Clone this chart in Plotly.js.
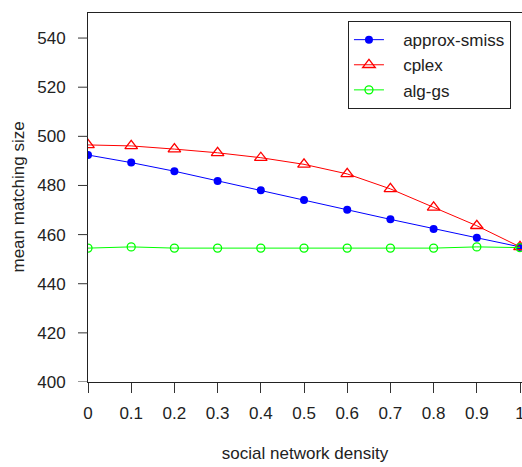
<!DOCTYPE html>
<html>
<head>
<meta charset="utf-8">
<script src="https://cdn.plot.ly/plotly-3.0.1.min.js"></script>
<style>html,body{margin:0;padding:0;background:#fff;}#chart{width:522px;height:467px;}</style>
</head>
<body>
<div id="chart"></div>
<script>
const density = [0, 0.1, 0.2, 0.3, 0.4, 0.5, 0.6, 0.7, 0.8, 0.9, 1.0];
const approxSmiss = [492.4, 489.3, 485.8, 481.8, 478.1, 474.1, 470.1, 466.2, 462.3, 458.7, 455.0];
const cplex = [496.5, 496.1, 494.8, 493.3, 491.3, 488.6, 484.7, 478.6, 471.1, 463.6, 455.0];
const algGs = [454.5, 455.0, 454.5, 454.5, 454.5, 454.5, 454.5, 454.5, 454.5, 455.0, 454.7];
const xTicks = [0, 0.1, 0.2, 0.3, 0.4, 0.5, 0.6, 0.7, 0.8, 0.9, 1];
const xTickText = ['0', '0.1', '0.2', '0.3', '0.4', '0.5', '0.6', '0.7', '0.8', '0.9', '1'];
const yTicks = [400, 420, 440, 460, 480, 500, 520, 540];
const seriesNames = ['approx-smiss', 'cplex', 'alg-gs'];
const xTitle = 'social network density';
const yTitle = 'mean matching size';

const font = 'Liberation Sans, Arial, sans-serif';
const pad = '\u00a0\u00a0\u00a0';

const traces = [
  {x: density, y: approxSmiss, name: pad + seriesNames[0], mode: 'lines+markers',
   line: {color: '#0000ff', width: 1}, marker: {symbol: 'circle', size: 8, color: '#0000ff'}},
  {x: density, y: cplex, name: pad + seriesNames[1], mode: 'lines+markers',
   line: {color: '#ff0000', width: 1}, marker: {symbol: 'triangle-up-open', size: 11, color: '#ff0000', line: {width: 1.3}}},
  {x: density, y: algGs, name: pad + seriesNames[2], mode: 'lines+markers',
   line: {color: '#00ff00', width: 1}, marker: {symbol: 'circle-open', size: 8, color: '#00ff00', line: {width: 1.3}}}
];

// visible y tick marks (10 px, outward); labels pushed further out by a transparent longer tick
const yTickShapes = yTicks.map(v => ({
  type: 'line', xref: 'paper', yref: 'y', xsizemode: 'pixel', xanchor: 0,
  x0: -10, x1: 0, y0: v, y1: v, layer: 'above',
  line: {color: '#333', width: 1}
}));

const layout = {
  width: 522, height: 467,
  margin: {l: 88, r: 0, t: 13, b: 85},
  paper_bgcolor: '#fff', plot_bgcolor: '#fff',
  font: {family: font, color: '#222', size: 17},
  showlegend: true,
  legend: {x: 0.599, y: 0.978, xanchor: 'left', yanchor: 'top',
    bordercolor: '#222', borderwidth: 1, bgcolor: '#fff',
    font: {family: font, size: 17, color: '#222'}, tracegroupgap: 0},
  xaxis: {range: [0, 1.0046], tickvals: xTicks, ticktext: xTickText,
    ticks: 'outside', ticklen: 10, tickwidth: 1, tickcolor: '#333',
    showline: true, linecolor: '#222', linewidth: 1, mirror: true,
    showgrid: false, zeroline: false, ticklabelstandoff: 6, ticklabeloverflow: 'allow',
    tickfont: {family: font, size: 17, color: '#222'},
    title: {text: xTitle, font: {family: font, size: 17, color: '#222'}, standoff: 24}},
  yaxis: {range: [400, 550.2], tickvals: yTicks,
    ticks: 'outside', ticklen: 18, tickwidth: 1, tickcolor: 'rgba(0,0,0,0)',
    showline: true, linecolor: '#222', linewidth: 1, mirror: false,
    showgrid: false, zeroline: false,
    tickfont: {family: font, size: 17, color: '#222'}},
  shapes: yTickShapes,
  annotations: [{text: yTitle, textangle: -90, xref: 'paper', yref: 'paper',
    x: 0, y: 0.5, xanchor: 'center', yanchor: 'middle', xshift: -70, showarrow: false,
    font: {family: font, size: 17, color: '#222'}}]
};

Plotly.newPlot('chart', traces, layout, {displayModeBar: false, staticPlot: true});
</script>
</body>
</html>
